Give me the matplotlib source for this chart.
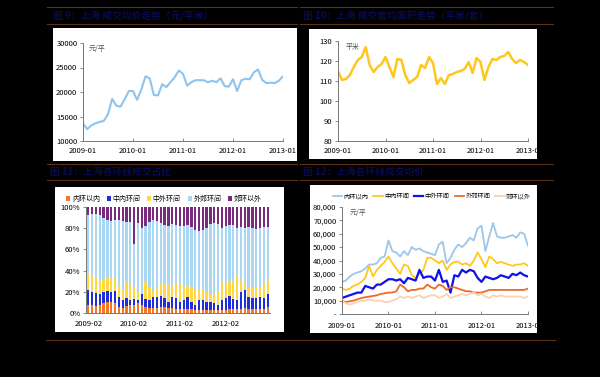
import numpy as np
import matplotlib.pyplot as plt
from matplotlib.patches import Rectangle
from matplotlib.lines import Line2D

plt.rcParams['font.family'] = ['Noto Sans CJK SC', 'DejaVu Sans']

# ---- data ----
months = np.arange(49)  # 2009-01 .. 2013-01
price = [13600, 12400, 13200, 13600, 13900, 14100, 15500, 18600, 17200, 17000,
         18500, 20200, 20200, 18400, 20500, 23200, 22800, 19400, 19300, 21600,
         21000, 22000, 23000, 24400, 23700, 21300, 22000, 22400, 22400, 22400,
         22000, 22300, 22000, 22800, 21200, 21100, 22600, 20200, 22400, 22700,
         22600, 24000, 24600, 22500, 21800, 21900, 21800, 22300, 23200]
area = [115, 110.5, 111, 113, 117, 120.5, 122, 127, 118, 114.5,
        117, 118.5, 122, 117, 112, 121, 120.5, 113, 109, 110.5,
        112, 118, 116.5, 122, 119, 108.5, 111.5, 108.5, 113, 113.5,
        114.5, 115, 116, 119.5, 114, 121.5, 119.5, 110.5, 117, 121,
        120.5, 122, 122.5, 124.5, 121, 119, 120.5, 119.5, 118]

ring_names = ['内环以内', '中内环间', '中外环间', '外郊环间', '郊环以外']

# cumulative share (%) by ring, 48 months 2009-02 .. 2013-01
top_orange = [8, 8, 7, 8, 9, 10, 10, 9, 6, 5, 7, 8, 8, 9, 8, 6, 5, 5, 5, 6, 6, 5, 5, 4,
              4, 4, 4, 4, 3, 3, 3, 3, 3, 3, 3, 3, 3, 4, 4, 4, 4, 5, 4, 4, 4, 4, 4, 6]
top_blue = [22, 20, 19, 18, 20, 21, 20, 21, 15, 12, 14, 12, 13, 12, 20, 13, 12, 15, 15, 16, 14, 10, 15, 14,
            10, 12, 15, 10, 8, 12, 12, 10, 10, 9, 8, 12, 14, 16, 13, 12, 20, 22, 15, 14, 14, 15, 14, 18]
top_yellow = [38, 35, 33, 30, 32, 33, 34, 33, 26, 22, 30, 28, 25, 20, 18, 30, 25, 20, 25, 28, 27, 26, 26, 27,
              27, 25, 26, 25, 22, 22, 22, 20, 18, 18, 20, 29, 28, 30, 30, 35, 32, 28, 24, 25, 25, 24, 28, 32]
top_lblue = [92, 93, 93, 92, 90, 88, 87, 88, 88, 87, 86, 86, 65, 85, 80, 82, 86, 88, 87, 85, 83, 82, 84, 83,
             82, 82, 83, 81, 78, 77, 78, 80, 84, 85, 84, 80, 82, 83, 83, 80, 81, 80, 81, 80, 79, 80, 81, 81]

ring_price = {
    '内环以内': [24, 25, 28, 30, 31, 32, 34, 37, 37, 38, 42, 43, 55, 47, 46, 43, 47, 44, 50, 48,
              49, 47, 46, 45, 44, 52, 54, 38, 42, 48, 52, 50, 53, 57, 55, 64, 66, 47, 58, 68,
              58, 57, 57, 58, 59, 57, 61, 60, 51],
    '中内环间': [19, 18, 19, 21, 22, 24, 27, 36, 28, 33, 36, 39, 43, 38, 34, 30, 37, 36, 29, 27,
              30, 33, 42, 42, 40, 38, 40, 33, 37, 39, 39, 37, 38, 36, 40, 46, 41, 35, 43, 41,
              38, 39, 38, 37, 36, 37, 37, 38, 36],
    '中外环间': [12, 13, 14, 15, 16, 16, 21, 20, 19, 22, 22, 24, 26, 26, 25, 26, 23, 27, 26, 25,
              33, 27, 28, 28, 25, 33, 24, 25, 16, 29, 28, 33, 31, 33, 32, 27, 24, 28, 27, 26,
              27, 29, 28, 27, 30, 29, 31, 29, 28],
    '外郊环间': [10, 9, 9.5, 10, 11, 12, 12.5, 13, 13.5, 14, 15, 15.5, 16, 16, 17, 22, 20, 17, 18, 18,
              19, 19, 22, 20, 19, 22, 21, 18, 20, 20, 19, 18, 17, 17, 16, 16, 16, 17, 18, 18,
              18, 18, 18, 18, 18, 18, 18, 18, 19],
    '郊环以外': [10, 8, 7, 8, 9, 10, 10, 11, 10, 10, 10, 9, 9, 10, 11, 13, 12, 13, 12, 13,
              14, 12, 13, 14, 14, 12, 13, 15, 12, 13, 14, 15, 14, 15, 16, 14, 15, 13, 12, 14,
              13, 14, 13, 13, 13, 13, 13, 12, 13],
}

year_labels = ['2009-01', '2010-01', '2011-01', '2012-01', '2013-01']
year_labels_cut = ['2009-01', '2010-01', '2011-01', '2012-01', '2013-0']
bar_labels = ['2009-02', '2010-02', '2011-02', '2012-02']

titles = ['图 9：上海 成交均价走势（元/平米）',
          '图 10：上海 成交套均面积走势（平米/套）',
          '图 11：上海各环线成交占比',
          '图 12：上海各环线成交均价']

W, H = 600, 377
fig = plt.figure(figsize=(6, 3.77), dpi=100, facecolor='black')


def rect(x0, y0, x1, y1):
    return [x0 / W, 1 - y1 / H, (x1 - x0) / W, (y1 - y0) / H]


def hline(y, x0, x1):
    fig.add_artist(Line2D([x0 / W, x1 / W], [1 - y / H, 1 - y / H],
                          color='#5a3418', lw=0.8, zorder=-1))


def white_box(x0, y0, x1, y1):
    fig.add_artist(Rectangle((x0 / W, 1 - y1 / H), (x1 - x0) / W, (y1 - y0) / H,
                             facecolor='white', edgecolor='none', zorder=-1))


def style(ax):
    for s in ['top', 'right']:
        ax.spines[s].set_visible(False)
    for s in ['left', 'bottom']:
        ax.spines[s].set_color('#777777')
        ax.spines[s].set_linewidth(0.7)
    ax.tick_params(labelsize=5.5, length=2, width=0.6, color='#777777', pad=2)
    ax.tick_params(axis='x', pad=4)
    ax.set_facecolor('white')


# frame lines and titles
hline(7, 47, 297)
hline(24, 47, 297)
hline(7, 300, 553)
hline(24, 300, 553)
hline(164, 47, 297)
hline(180, 47, 297)
hline(164, 300, 553)
hline(180, 300, 553)
hline(340, 46, 555)
title_pos = [(53, 16), (303, 16), (50, 172), (303, 172)]
for (tx, ty), t in zip(title_pos, titles):
    fig.text(tx / W, 1 - ty / H, t, color='#0a0a4c', fontsize=7, fontweight='bold',
             va='center', ha='left')

white_box(53, 28, 297, 161)
white_box(309, 29, 537, 159)
white_box(55, 187, 284, 332)
white_box(310, 185, 537, 333)

# ---- chart 1 ----
ax1 = fig.add_axes(rect(83, 43, 283, 141))
style(ax1)
ax1.plot(months, price, color='#8fc4ee', lw=1.5)
ax1.set_xlim(0, 48)
ax1.set_ylim(10000, 30000)
ax1.set_yticks(np.arange(10000, 30001, 5000))
ax1.set_xticks([0, 12, 24, 36, 48])
ax1.set_xticklabels(year_labels)
ax1.tick_params(axis='x', direction='in')
ax1.text(0.03, 0.98, '元/平', transform=ax1.transAxes, fontsize=5, color='#555555', va='top')

# ---- chart 2 ----
ax2 = fig.add_axes(rect(338, 41, 528, 141))
style(ax2)
ax2.plot(months, area, color='#ffc61e', lw=1.8)
ax2.set_xlim(0, 48)
ax2.set_ylim(80, 130)
ax2.set_yticks(np.arange(80, 131, 10))
ax2.set_xticks([0, 12, 24, 36, 48])
ax2.set_xticklabels(year_labels_cut)
ax2.tick_params(axis='x', direction='in')
ax2.text(0.04, 0.98, '平米', transform=ax2.transAxes, fontsize=5, color='#555555', va='top')

# ---- chart 3 ----
ax3 = fig.add_axes(rect(86, 207, 270, 313))
style(ax3)
n = len(top_orange)
xb = np.arange(n)
o = np.array(top_orange, float)
b = np.array(top_blue, float) - o
yv = np.array(top_yellow, float) - np.array(top_blue, float)
lb = np.array(top_lblue, float) - np.array(top_yellow, float)
pu = 100 - np.array(top_lblue, float)
bar_colors = ['#f0782a', '#1f2ed6', '#ffd84a', '#aad8f4', '#7a2a7e']
bottom = np.zeros(n)
for name, vals, c in zip(ring_names, [o, b, yv, lb, pu], bar_colors):
    ax3.bar(xb, vals, bottom=bottom, width=0.6, color=c, label=name)
    bottom += vals
ax3.set_xlim(-0.6, n - 0.4)
ax3.set_ylim(0, 100)
ax3.set_yticks(np.arange(0, 101, 20))
ax3.set_yticklabels([f'{v}%' for v in range(0, 101, 20)])
ax3.set_xticks([0, 12, 24, 36])
ax3.set_xticklabels(bar_labels)
ax3.tick_params(axis='x', length=0, pad=5)
ax3.legend(loc='lower left', bbox_to_anchor=(-0.13, 1.0), ncol=5, frameon=False,
           fontsize=5, handlelength=0.6, handleheight=0.6, handletextpad=0.2,
           columnspacing=1.0, borderaxespad=0.2)

# ---- chart 4 ----
ax4 = fig.add_axes(rect(342, 207, 528, 314))
style(ax4)
line_colors = ['#9cc6ea', '#ffc81e', '#1010e8', '#ee6a28', '#f8d2b4']
line_widths = [1.3, 1.3, 1.6, 1.3, 1.3]
for name, c, lw in zip(ring_names, line_colors, line_widths):
    ax4.plot(months, np.array(ring_price[name]) * 1000, color=c, lw=lw, label=name)
ax4.set_xlim(0, 48)
ax4.set_ylim(0, 80000)
ax4.set_yticks(np.arange(0, 80001, 10000))
ax4.set_yticklabels(['-'] + [f'{v:,}' for v in range(10000, 80001, 10000)])
ax4.set_xticks([0, 12, 24, 36, 48])
ax4.set_xticklabels(year_labels_cut)
ax4.tick_params(axis='x', direction='in', pad=6)
ax4.text(0.04, 0.98, '元/平', transform=ax4.transAxes, fontsize=5, color='#555555', va='top')
ax4.legend(loc='lower left', bbox_to_anchor=(-0.07, 1.03), ncol=5, frameon=False,
           fontsize=4.5, handlelength=1.5, handletextpad=0.2, columnspacing=0.8,
           borderaxespad=0.2)

fig.savefig('out.png', dpi=100, facecolor='black')
